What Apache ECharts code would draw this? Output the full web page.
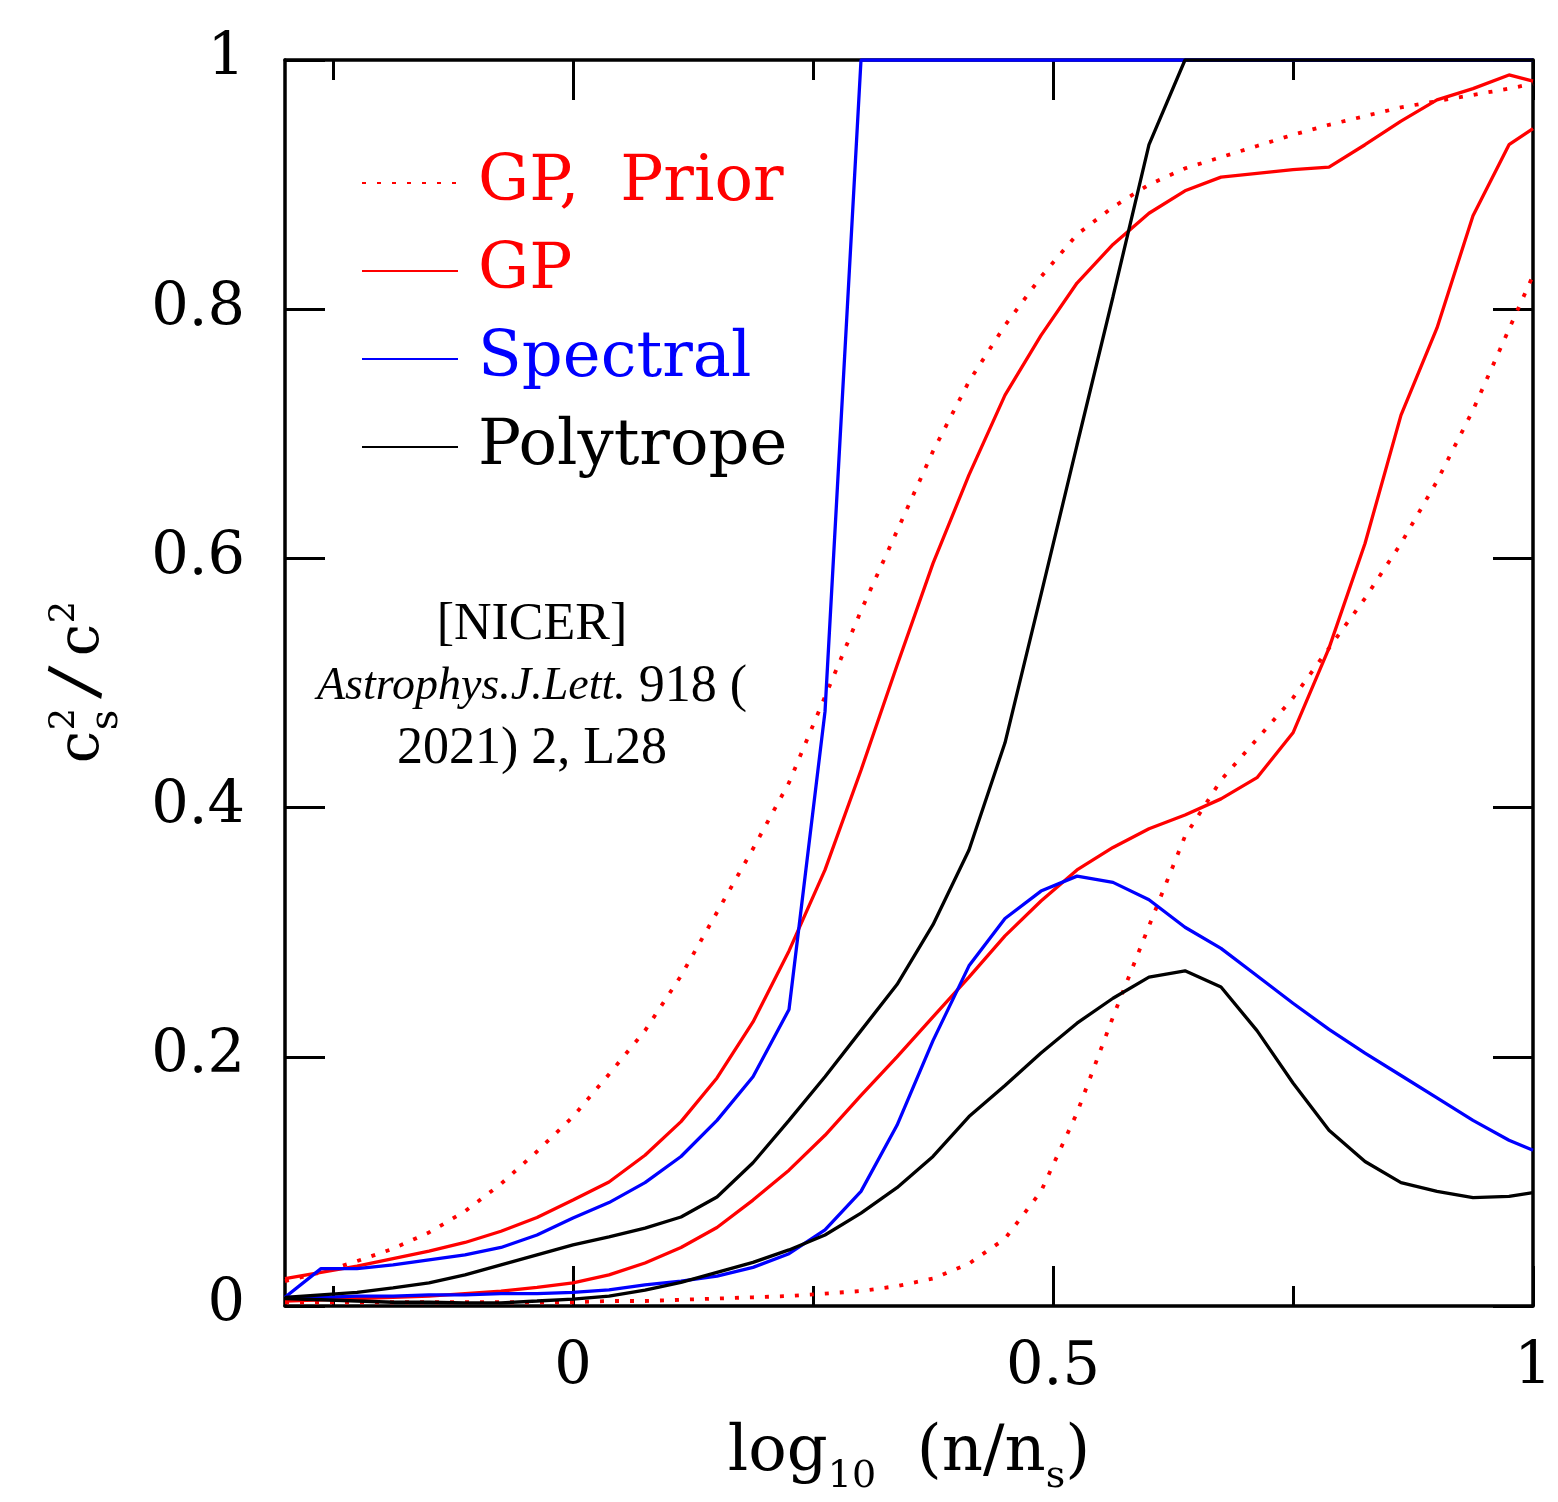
<!DOCTYPE html>
<html>
<head>
<meta charset="utf-8">
<script src="https://cdn.jsdelivr.net/npm/echarts@6/dist/echarts.min.js"></script>
<style>
html,body{margin:0;padding:0;background:#fff;}
#chart{width:1558px;height:1502px;}
</style>
</head>
<body>
<div id="chart"></div>
<script>
// x grid: log10(n/ns)
const xs = [-0.3, -0.2625, -0.225, -0.1875, -0.15, -0.1125, -0.075, -0.0375, 0, 0.0375, 0.075, 0.1125, 0.15, 0.1875, 0.225, 0.2625, 0.3, 0.3375, 0.375, 0.4125, 0.45, 0.4875, 0.525, 0.5625, 0.6, 0.6375, 0.675, 0.7125, 0.75, 0.7875, 0.825, 0.8625, 0.9, 0.9375, 0.975, 1.0];

// GP prior bounds (dotted red)
const priorUpper = [0.02, 0.027, 0.036, 0.046, 0.059, 0.076, 0.098, 0.124, 0.152, 0.186, 0.221, 0.265, 0.316, 0.367, 0.42, 0.489, 0.558, 0.622, 0.686, 0.742, 0.787, 0.826, 0.86, 0.882, 0.9, 0.913, 0.922, 0.931, 0.94, 0.948, 0.955, 0.962, 0.967, 0.972, 0.977, 0.981];
const priorLower = [0.003, 0.003, 0.003, 0.003, 0.003, 0.003, 0.003, 0.003, 0.003, 0.004, 0.004, 0.005, 0.006, 0.007, 0.008, 0.01, 0.012, 0.016, 0.022, 0.034, 0.054, 0.092, 0.155, 0.232, 0.305, 0.377, 0.422, 0.455, 0.488, 0.528, 0.568, 0.612, 0.662, 0.719, 0.784, 0.827];

// GP posterior bounds (solid red)
const gpUpper = [0.022, 0.027, 0.032, 0.038, 0.044, 0.051, 0.06, 0.071, 0.085, 0.0995, 0.121, 0.148, 0.183, 0.228, 0.285, 0.35, 0.43, 0.514, 0.596, 0.667, 0.731, 0.779, 0.821, 0.852, 0.877, 0.895, 0.906, 0.909, 0.912, 0.914, 0.932, 0.951, 0.968, 0.977, 0.988, 0.983];
const gpLower = [0.004, 0.005, 0.006, 0.007, 0.008, 0.01, 0.012, 0.015, 0.0185, 0.025, 0.0345, 0.047, 0.063, 0.085, 0.109, 0.137, 0.169, 0.2, 0.232, 0.264, 0.297, 0.325, 0.35, 0.368, 0.383, 0.394, 0.407, 0.424, 0.46, 0.528, 0.612, 0.715, 0.785, 0.875, 0.932, 0.945];

// Spectral bounds (blue)
const spUpper = [0.007, 0.03, 0.03, 0.033, 0.037, 0.041, 0.047, 0.057, 0.0706, 0.083, 0.099, 0.12, 0.149, 0.184, 0.238, 0.477, 1, 1, 1, 1, 1, 1, 1, 1, 1, 1, 1, 1, 1, 1, 1, 1, 1, 1, 1, 1];
const spLower = [0.007, 0.007, 0.008, 0.008, 0.009, 0.009, 0.01, 0.01, 0.011, 0.013, 0.017, 0.02, 0.024, 0.031, 0.042, 0.061, 0.092, 0.145, 0.213, 0.273, 0.311, 0.333, 0.345, 0.34, 0.326, 0.304, 0.287, 0.265, 0.243, 0.222, 0.203, 0.185, 0.167, 0.149, 0.133, 0.125];

// Polytrope bounds (black)
const polyUpper = [0.007, 0.009, 0.011, 0.0145, 0.0185, 0.025, 0.033, 0.041, 0.049, 0.0555, 0.0625, 0.0714, 0.0875, 0.115, 0.149, 0.184, 0.221, 0.258, 0.306, 0.366, 0.452, 0.571, 0.691, 0.81, 0.932, 1, 1, 1, 1, 1, 1, 1, 1, 1, 1, 1];
const polyLower = [0.006, 0.005, 0.004, 0.003, 0.003, 0.0025, 0.0025, 0.004, 0.0056, 0.008, 0.0128, 0.019, 0.027, 0.035, 0.045, 0.057, 0.0746, 0.095, 0.12, 0.152, 0.177, 0.203, 0.227, 0.247, 0.264, 0.269, 0.256, 0.221, 0.179, 0.141, 0.116, 0.099, 0.092, 0.087, 0.088, 0.091];

// ticks
const xMajorTicks = [0, 0.5, 1];
const xMinorTicks = [-0.25, 0.25, 0.75];
const yTickStep = 0.2;

const legendNames = ['GP,  Prior', 'GP', 'Spectral', 'Polytrope'];
const legendColors = ['#ff0000', '#ff0000', '#0000ff', '#000000'];

const SERIF = 'DejaVu Serif';
const pairs = arr => xs.map((x, i) => [x, arr[i]]);

const frameLine = { onZero: false, lineStyle: { color: '#000', width: 3.5 } };
const tickStyle = { color: '#000', width: 3 };

function xAxisDef(position, major, showLine, showLabel) {
  return {
    type: 'value', min: -0.3, max: 1, gridIndex: 0, position: position,
    splitLine: { show: false },
    axisLine: showLine ? frameLine : { show: false, onZero: false },
    axisTick: { show: true, inside: true, length: major ? 40 : 20, lineStyle: tickStyle,
                customValues: major ? xMajorTicks : xMinorTicks },
    axisLabel: showLabel ? {
      show: true, customValues: xMajorTicks, margin: 33,
      fontFamily: SERIF, fontSize: 59, color: '#000',
      formatter: v => String(v)
    } : { show: false }
  };
}

const xAxes = [
  xAxisDef('bottom', true, true, true),
  xAxisDef('bottom', false, false, false),
  xAxisDef('top', true, true, false),
  xAxisDef('top', false, false, false)
];
xAxes[0].name = '{a|log}{b|10}{a|  (n/n}{b|s}{a|)}';
xAxes[0].nameLocation = 'middle';
xAxes[0].nameGap = 112;
xAxes[0].nameTextStyle = {
  rich: {
    a: { fontFamily: SERIF, fontSize: 64, lineHeight: 70, color: '#000' },
    b: { fontFamily: SERIF, fontSize: 38, lineHeight: 10, verticalAlign: 'top', padding: [40, 0, 0, 0], color: '#000' }
  }
};

function yAxisDef(position, showLabel) {
  return {
    type: 'value', min: 0, max: 1, interval: yTickStep, position: position,
    splitLine: { show: false },
    axisLine: frameLine,
    axisTick: { show: true, inside: true, length: 40, lineStyle: tickStyle },
    axisLabel: showLabel ? {
      show: true, margin: 40, fontFamily: SERIF, fontSize: 59, color: '#000',
      formatter: v => (v === 0 || v === 1) ? String(v) : v.toFixed(1)
    } : { show: false }
  };
}

function lineSeries(name, data, color, dotted, width) {
  return {
    type: 'line', name: name, data: pairs(data),
    xAxisIndex: 0, yAxisIndex: 0,
    symbol: 'none', showSymbol: false, smooth: false, clip: true,
    lineStyle: { color: color, width: width, type: dotted ? [4, 11] : 'solid', cap: 'butt' },
    itemStyle: { color: color },
    emphasis: { disabled: true }, silent: true
  };
}

const chart = echarts.init(document.getElementById('chart'), null, { renderer: 'canvas' });
chart.setOption({
  animation: false,
  backgroundColor: '#ffffff',
  grid: { left: 285, right: 25, top: 60, bottom: 196, containLabel: false, outerBoundsMode: 'none' },
  xAxis: xAxes,
  yAxis: [yAxisDef('left', true), yAxisDef('right', false)],
  legend: {
    orient: 'vertical', left: 361, top: 151, padding: 0,
    itemWidth: 96, itemHeight: 20, itemGap: 24,
    selectedMode: false,
    itemStyle: { opacity: 0 },
    textStyle: { fontFamily: SERIF, fontSize: 64, lineHeight: 64, padding: [0, 0, 0, 15] },
    data: legendNames.map((n, i) => ({ name: n, textStyle: { color: legendColors[i] } }))
  },
  series: [
    lineSeries(legendNames[0], priorUpper, '#ff0000', true, 3.8),
    lineSeries(legendNames[0], priorLower, '#ff0000', true, 3.8),
    lineSeries(legendNames[1], gpUpper, '#ff0000', false, 3.3),
    lineSeries(legendNames[1], gpLower, '#ff0000', false, 3.3),
    lineSeries(legendNames[2], spUpper, '#0000ff', false, 3.3),
    lineSeries(legendNames[2], spLower, '#0000ff', false, 3.3),
    lineSeries(legendNames[3], polyUpper, '#000000', false, 3.3),
    lineSeries(legendNames[3], polyLower, '#000000', false, 3.3)
  ],
  graphic: [
    {
      type: 'group', x: 85, y: 690, rotation: Math.PI / 2,
      children: [
        { type: 'text', x: -57, y: -2, style: { text: 'c', fontFamily: SERIF, fontSize: 58, fill: '#000', align: 'center', verticalAlign: 'middle' } },
        { type: 'text', x: -29, y: -20, style: { text: '2', fontFamily: SERIF, fontSize: 35, fill: '#000', align: 'center', verticalAlign: 'middle' } },
        { type: 'text', x: -30, y: 22, style: { text: 's', fontFamily: SERIF, fontSize: 40, fill: '#000', align: 'center', verticalAlign: 'middle' } },
        { type: 'text', x: 7, y: -6, rotation: -0.18, style: { text: '/', fontFamily: SERIF, fontSize: 70, fill: '#000', align: 'center', verticalAlign: 'middle' } },
        { type: 'text', x: 50, y: -2, style: { text: 'c', fontFamily: SERIF, fontSize: 58, fill: '#000', align: 'center', verticalAlign: 'middle' } },
        { type: 'text', x: 78, y: -20, style: { text: '2', fontFamily: SERIF, fontSize: 35, fill: '#000', align: 'center', verticalAlign: 'middle' } }
      ]
    },
    {
      type: 'text', x: 532, y: 687,
      style: {
        text: '{n|[NICER]}\n{i|Astrophys.J.Lett.}{n| 918 (}\n{n|2021) 2, L28}',
        align: 'center', verticalAlign: 'middle', fill: '#000',
        rich: {
          n: { fontFamily: 'Liberation Serif', fontSize: 52, lineHeight: 62, fill: '#000' },
          i: { fontFamily: 'Liberation Serif', fontSize: 46, lineHeight: 62, fontStyle: 'italic', fill: '#000' }
        }
      }
    }
  ]
});
</script>
</body>
</html>
